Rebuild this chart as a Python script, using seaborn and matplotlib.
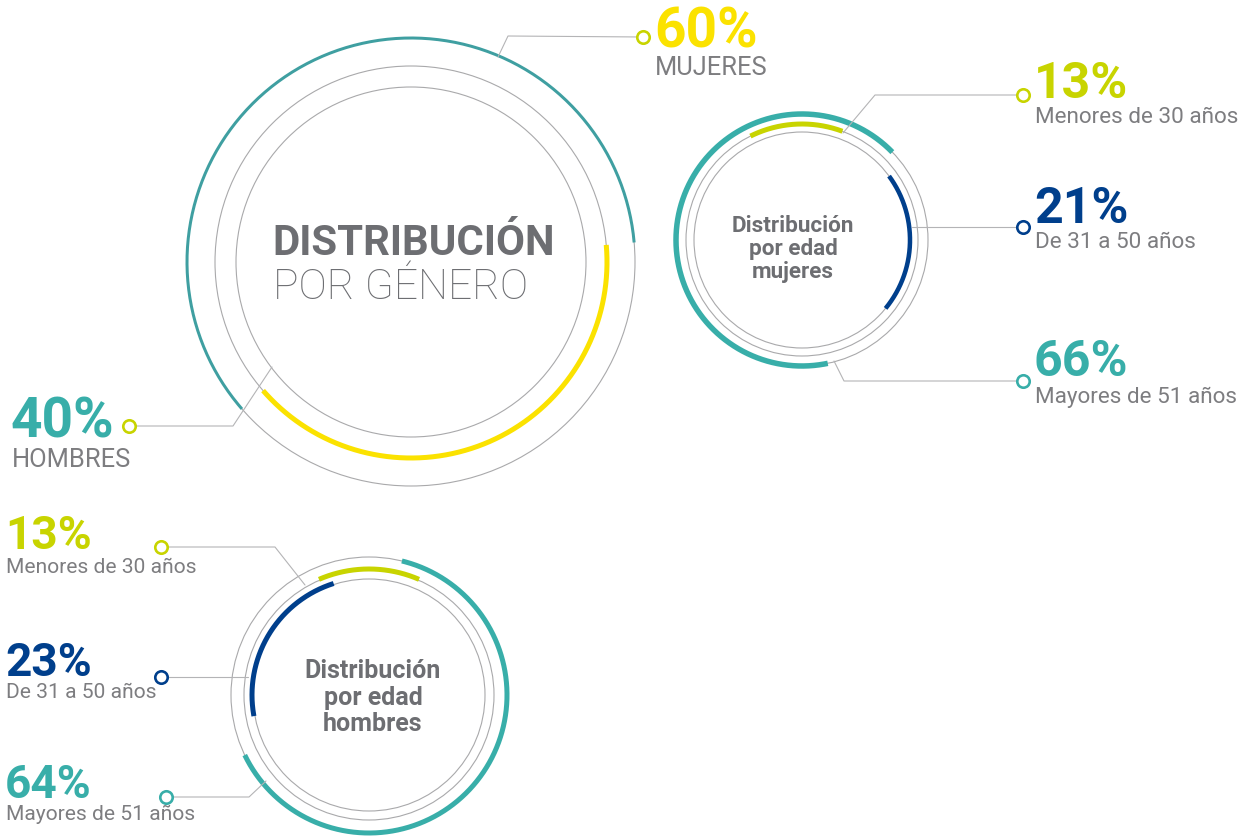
import numpy as np
import matplotlib.pyplot as plt
import seaborn as sns

genero_labels = ["MUJERES", "HOMBRES"]
genero_pct = [60, 40]

edad_labels = ["Menores de 30 años", "De 31 a 50 años", "Mayores de 51 años"]
edad_mujeres_pct = [13, 21, 66]
edad_hombres_pct = [13, 23, 64]

titulo_genero = ["DISTRIBUCIÓN", "POR GÉNERO"]
titulo_mujeres = ["Distribución", "por edad", "mujeres"]
titulo_hombres = ["Distribución", "por edad", "hombres"]

# ---- style ----
sns.set_theme(style="white")
plt.rcParams["font.family"] = ["Roboto", "DejaVu Sans"]

teal, teal_dark, yellow, lime, navy = sns.color_palette(
    ["#38aea9", "#3f9fa1", "#fbe200", "#c8d400", "#003f8c"])
grey_title = "#6d6e72"
grey_text = "#7d7d80"
grey_ring = "#a9a9ab"
grey_line = "#b4b4b6"


def fpx(v):
    # font size given in pixels -> points (dpi 100)
    return v * 0.72


def arc(ax, cx, cy, r, start, pct, direction, color, lw):
    span = pct / 100 * 360 * direction
    th = np.radians(np.linspace(start, start + span, 300))
    ax.plot(cx + r * np.cos(th), cy - r * np.sin(th), color=color,
            lw=lw * 0.72, solid_capstyle="butt", zorder=3)


def arc_mid(ax, cx, cy, r, mid, pct, color, lw):
    arc(ax, cx, cy, r, mid - pct / 100 * 180, pct, 1, color, lw)


def rings(ax, cx, cy, radii):
    for r in radii:
        ax.add_patch(plt.Circle((cx, cy), r, fill=False, ec=grey_ring,
                                lw=0.8, zorder=2))


def leader(ax, pts, color):
    xs, ys = zip(*pts)
    ax.plot(xs, ys, color=grey_line, lw=0.8, zorder=4)
    sns.scatterplot(x=[xs[-1]], y=[ys[-1]], ax=ax, s=80, color="white",
                    edgecolor=color, linewidth=1.9, zorder=6, legend=False)


def label(ax, x, y_pct, y_lab, pct, txt, color, size_pct, size_lab):
    ax.text(x, y_pct, f"{pct}%", color=color, fontsize=fpx(size_pct),
            fontweight="bold", ha="left", va="baseline")
    ax.text(x + 1, y_lab, txt, color=grey_text, fontsize=fpx(size_lab),
            fontweight="normal", ha="left", va="baseline")


fig = plt.figure(figsize=(12.56, 8.38), dpi=100)
ax = fig.add_axes([0, 0, 1, 1])
ax.set_xlim(0, 1256)
ax.set_ylim(838, 0)
ax.axis("off")

# ---- big gender circle ----
gcx, gcy = 411, 262
rings(ax, gcx, gcy, [224, 196, 175])
arc(ax, gcx, gcy, 224, 5, genero_pct[0], 1, teal_dark, 3)
arc(ax, gcx, gcy, 196, 5, genero_pct[1], -1, yellow, 5)

ax.text(272, 255, titulo_genero[0], color=grey_title, fontsize=fpx(42),
        fontweight="bold", ha="left", va="baseline")
ax.text(273, 299, titulo_genero[1], color=grey_title, fontsize=fpx(42.5),
        fontweight="light", ha="left", va="baseline")

leader(ax, [(498, 57), (508, 36), (643, 37)], lime)
label(ax, 654, 47, 75, genero_pct[0], genero_labels[0], yellow, 55, 25.5)
leader(ax, [(272, 367), (233, 426), (129, 426)], lime)
label(ax, 11, 437, 467, genero_pct[1], genero_labels[1], teal, 55, 25.5)

# ---- women by age ----
mcx, mcy = 802, 240
rings(ax, mcx, mcy, [126, 116, 108])
arc_mid(ax, mcx, mcy, 126, 163, edad_mujeres_pct[2], teal, 5.5)
arc_mid(ax, mcx, mcy, 116, 93, edad_mujeres_pct[0], lime, 5)
arc_mid(ax, mcx, mcy, 108, -1.5, edad_mujeres_pct[1], navy, 4.5)
for i, line in enumerate(titulo_mujeres):
    ax.text(793, 232 + 23 * i, line, color=grey_title, fontsize=fpx(22.5),
            fontweight="bold", ha="center", va="baseline")

muj_colors = [lime, navy, teal]
muj_leaders = [[(843, 133), (875, 95), (1023, 95)],
               [(912, 227), (1023, 227)],
               [(834, 361), (844, 381), (1023, 381)]]
muj_pct_y = [98, 223, 376]
muj_lab_y = [123, 248, 403]
for i in range(3):
    leader(ax, muj_leaders[i], muj_colors[i])
    label(ax, 1034, muj_pct_y[i], muj_lab_y[i], edad_mujeres_pct[i],
          edad_labels[i], muj_colors[i], 50, 22.5)

# ---- men by age ----
hcx, hcy = 369, 695
rings(ax, hcx, hcy, [138, 125, 116])
arc_mid(ax, hcx, hcy, 138, -39, edad_hombres_pct[2], teal, 5)
arc_mid(ax, hcx, hcy, 126, 90, edad_hombres_pct[0], lime, 5)
arc_mid(ax, hcx, hcy, 117, 149, edad_hombres_pct[1], navy, 5)
for i, line in enumerate(titulo_hombres):
    ax.text(373, 678 + 26.5 * i, line, color=grey_title, fontsize=fpx(25),
            fontweight="bold", ha="center", va="baseline")

hom_leaders = [[(305, 585), (275, 547), (161, 547)],
               [(248, 677), (161, 677)],
               [(266, 781), (249, 797), (166, 797)]]
hom_pct_y = [549, 676, 798]
hom_lab_y = [573, 698, 820]
for i in range(3):
    leader(ax, hom_leaders[i], muj_colors[i])
    label(ax, 5, hom_pct_y[i], hom_lab_y[i], edad_hombres_pct[i],
          edad_labels[i], muj_colors[i], 46, 21)

fig.savefig("out.png", dpi=100, facecolor="white")
